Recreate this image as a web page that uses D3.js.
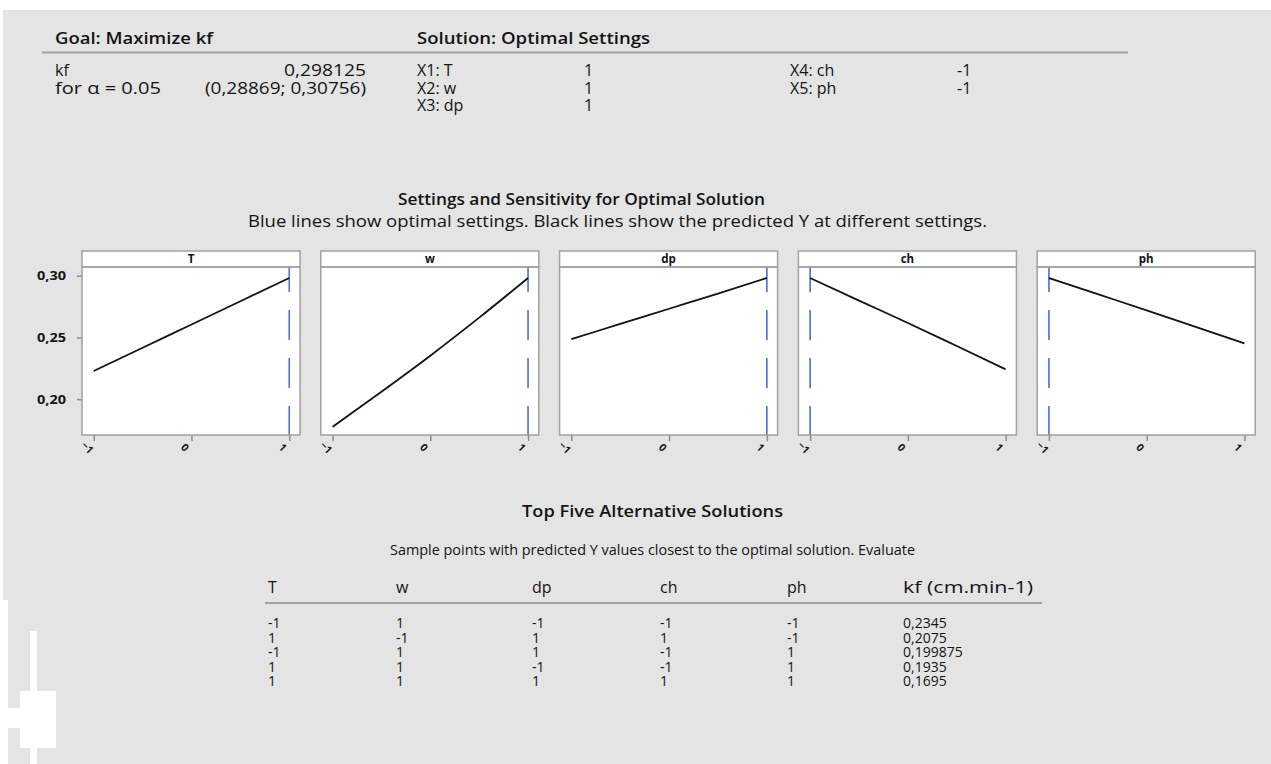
<!DOCTYPE html>
<html><head><meta charset="utf-8">
<script src="https://cdn.jsdelivr.net/npm/d3@7/dist/d3.min.js"></script>
<style>
html,body{margin:0;padding:0;background:#fff;}
svg{display:block;}
text{font-family:"Open Sans","Noto Sans",sans-serif;fill:#141414;}
</style></head><body>
<svg id="chart" width="1271" height="764"></svg>
<script>
// Factors and the coded levels along each panel's x axis
const factors = ["T", "w", "dp", "ch", "ph"];
const levels = [-1, -0.5, 0, 0.5, 1];
// Predicted kf across each factor, the others held at the optimal settings
const predT  = [0.2228, 0.2416, 0.2605, 0.2793, 0.298125];
const predW  = [0.1776, 0.2060, 0.2352, 0.2660, 0.298125];
const predDp = [0.2486, 0.2609, 0.2732, 0.2855, 0.298125];
const predCh = [0.298125, 0.2798, 0.2617, 0.2430, 0.2242];
const predPh = [0.298125, 0.2850, 0.2719, 0.2585, 0.2451];
const optimal = [1, 1, 1, -1, -1];
const yTicks = [0.20, 0.25, 0.30];
const xTicks = [-1, 0, 1];

// Optimum summary
const goal = "Maximize kf";
const kfOpt = 0.298125;
const kfCI = [0.28869, 0.30756];
const alpha = "0.05";

// Top five alternative solutions
const altT  = [-1, 1, -1, 1, 1];
const altW  = [1, -1, 1, 1, 1];
const altDp = [-1, 1, 1, -1, 1];
const altCh = [-1, 1, -1, -1, 1];
const altPh = [-1, -1, 1, 1, 1];
const altKf = [0.2345, 0.2075, 0.199875, 0.1935, 0.1695];
const altHeaders = ["T", "w", "dp", "ch", "ph", "kf (cm.min-1)"];

const preds = [predT, predW, predDp, predCh, predPh];
const comma = v => String(v).replace(".", ",");

const svg = d3.select("#chart");

// text helper; an optional width stretches the string to that length
function label(parent, x, y, str, opts = {}) {
  const t = parent.append("text").attr("x", x).attr("y", y)
    .attr("font-size", opts.size || 16)
    .attr("font-weight", opts.weight || 400)
    .attr("text-anchor", opts.anchor || "start")
    .text(str);
  if (opts.width) t.attr("textLength", opts.width).attr("lengthAdjust", "spacingAndGlyphs");
  return t;
}

// page background
svg.append("rect").attr("x", 0).attr("y", 0).attr("width", 1271).attr("height", 764).attr("fill", "#ffffff");
svg.append("rect").attr("x", 3).attr("y", 10).attr("width", 1268).attr("height", 754).attr("fill", "#e4e4e4");

// ---- summary block ----
const hdr = svg.append("g");
label(hdr, 55, 44, "Goal: " + goal, { weight: 600, width: 158 });
label(hdr, 417, 44, "Solution: Optimal Settings", { weight: 600, width: 233 });
hdr.append("line").attr("x1", 42).attr("x2", 1128).attr("y1", 52.5).attr("y2", 52.5)
  .attr("stroke", "#a2a2a2").attr("stroke-width", 2);

const rowY = [76, 93.5, 111];
label(hdr, 55, rowY[0], "kf");
label(hdr, 366, rowY[0], comma(kfOpt), { anchor: "end", width: 82 });
label(hdr, 55, rowY[1], "for \u03b1 = " + alpha, { width: 106 });
label(hdr, 366, rowY[1], "(" + comma(kfCI[0]) + "; " + comma(kfCI[1]) + ")", { anchor: "end", width: 161 });

factors.forEach((f, i) => {
  const col = i < 3 ? 0 : 1;
  const row = i < 3 ? i : i - 3;
  const xl = col === 0 ? 417 : 790;
  const xv = col === 0 ? 584 : 957;
  label(hdr, xl, rowY[row], "X" + (i + 1) + ": " + f);
  label(hdr, xv, rowY[row], optimal[i]);
});

// ---- sensitivity panels ----
label(svg, 581.5, 205, "Settings and Sensitivity for Optimal Solution", { weight: 600, anchor: "middle", width: 367 });
label(svg, 617.5, 227, "Blue lines show optimal settings. Black lines show the predicted Y at different settings.",
  { anchor: "middle", width: 739 });

const stripTop = 251, plotTop = 267, plotBottom = 435;
const panelW = 218, panelX0 = 82, panelStep = 238.8;
const y = d3.scaleLinear().domain([0.171, 0.307]).range([plotBottom, plotTop]);
const x = d3.scaleLinear().domain([-1.12, 1.11]).range([0, panelW]);
const line = d3.line().x(d => x(d[0])).y(d => y(d[1])).curve(d3.curveMonotoneX);

// shared y axis on the first panel
const yAxis = svg.append("g").attr("transform", `translate(${panelX0},0)`)
  .call(d3.axisLeft(y).tickValues(yTicks).tickSize(5).tickPadding(11)
    .tickFormat(d => d3.format(".2f")(d).replace(".", ",")));
yAxis.select(".domain").remove();
yAxis.selectAll(".tick line").attr("stroke", "#8c8c8c").attr("stroke-width", 1.5);
yAxis.selectAll(".tick text").attr("font-size", 12.5).attr("font-weight", 700).attr("fill", "#333")
  .style("font-family", '"Open Sans",sans-serif')
  .attr("textLength", 29).attr("lengthAdjust", "spacingAndGlyphs");

factors.forEach((f, i) => {
  const g = svg.append("g").attr("transform", `translate(${panelX0 + i * panelStep},0)`);
  g.append("rect").attr("x", 0).attr("y", plotTop).attr("width", panelW).attr("height", plotBottom - plotTop)
    .attr("fill", "#ffffff");
  // header strip with the factor name
  g.append("rect").attr("x", 0).attr("y", stripTop).attr("width", panelW).attr("height", plotTop - stripTop)
    .attr("fill", "#ffffff").attr("stroke", "#a0a0a0").attr("stroke-width", 1.5);
  label(g, panelW / 2, plotTop - 4, f, { size: 11.5, weight: 700, anchor: "middle" });

  // bottom axis
  const xa = g.append("g").attr("transform", `translate(0,${plotBottom})`)
    .call(d3.axisBottom(x).tickValues(xTicks).tickSize(6).tickPadding(8).tickFormat(d3.format("d")));
  xa.select(".domain").remove();
  xa.selectAll(".tick line").attr("stroke", "#8c8c8c").attr("stroke-width", 1.5);
  xa.selectAll(".tick text").attr("font-size", 10.5).attr("font-weight", 700).attr("fill", "#333")
    .style("font-family", '"Open Sans",sans-serif')
    .attr("transform", "rotate(45) translate(4,-4)");

  // optimal setting
  g.append("line").attr("x1", x(optimal[i])).attr("x2", x(optimal[i]))
    .attr("y1", plotTop).attr("y2", plotBottom)
    .attr("stroke", "#4d6fd6").attr("stroke-width", 1.6)
    .attr("stroke-dasharray", "30,18").attr("stroke-dashoffset", 5);

  // predicted response
  g.append("path").datum(levels.map((l, k) => [l, preds[i][k]])).attr("d", line)
    .attr("fill", "none").attr("stroke", "#111").attr("stroke-width", 1.8);

  g.append("rect").attr("x", 0).attr("y", plotTop).attr("width", panelW).attr("height", plotBottom - plotTop)
    .attr("fill", "none").attr("stroke", "#a0a0a0").attr("stroke-width", 1.5);
});

// ---- alternative solutions ----
label(svg, 652.5, 517, "Top Five Alternative Solutions", { weight: 600, anchor: "middle", width: 261 });
label(svg, 652.5, 555, "Sample points with predicted Y values closest to the optimal solution. Evaluate",
  { size: 15, anchor: "middle", width: 525 });

const colX = [268, 396, 532, 660, 787, 903];
const tblRows = altT.map((t, k) => [altT[k], altW[k], altDp[k], altCh[k], altPh[k], comma(altKf[k])]);
altHeaders.forEach((h, c) => {
  label(svg, colX[c], 593, h, c === 5 ? { width: 130 } : {});
});
svg.append("line").attr("x1", 265).attr("x2", 1042).attr("y1", 603).attr("y2", 603)
  .attr("stroke", "#a2a2a2").attr("stroke-width", 2);
const rowStep = 14.6, rowY0 = 628;
tblRows.forEach((r, k) => {
  r.forEach((v, c) => {
    label(svg, colX[c], rowY0 + k * rowStep, v, { size: 14 });
  });
});

// decorative white marker in the lower left corner
const mark = svg.append("g").attr("fill", "#ffffff");
mark.append("rect").attr("x", 30).attr("y", 631).attr("width", 7).attr("height", 133);
mark.append("rect").attr("x", 20).attr("y", 691).attr("width", 36).attr("height", 57);
mark.append("rect").attr("x", 3).attr("y", 708).attr("width", 17).attr("height", 20);
mark.append("rect").attr("x", 0).attr("y", 600).attr("width", 8).attr("height", 164);
</script>
</body></html>
